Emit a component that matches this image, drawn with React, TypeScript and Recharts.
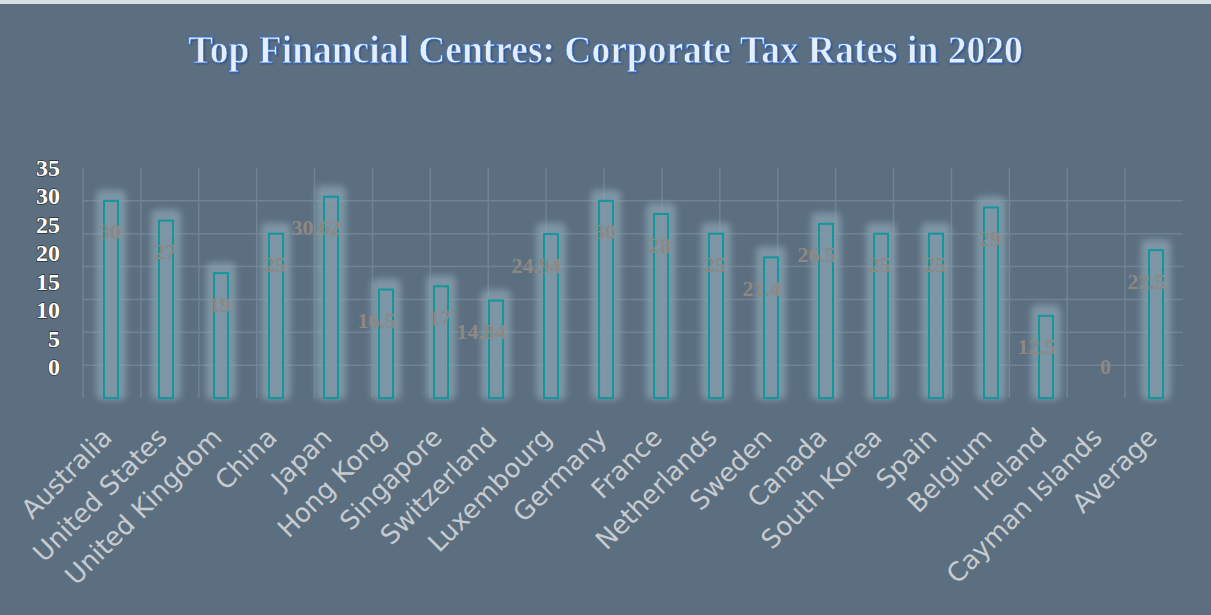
import React from 'react';
import { BarChart, Bar, XAxis, YAxis, CartesianGrid, LabelList } from 'recharts';

// Corporate tax rates (%) for the top financial centres, 2020
const countries = [
  'Australia', 'United States', 'United Kingdom', 'China', 'Japan',
  'Hong Kong', 'Singapore', 'Switzerland', 'Luxembourg', 'Germany',
  'France', 'Netherlands', 'Sweden', 'Canada', 'South Korea',
  'Spain', 'Belgium', 'Ireland', 'Cayman Islands', 'Average',
];
const taxRates = [30, 27, 19, 25, 30.62, 16.5, 17, 14.84, 24.94, 30, 28, 25, 21.4, 26.5, 25, 25, 29, 12.5, 0, 22.5];
const axisLabels = [0, 5, 10, 15, 20, 25, 30, 35];
const gridValues = [5, 10, 15, 20, 25, 30];
const boundaryTicks = Array.from({ length: countries.length + 1 }, (_, i) => i);

const data = countries.map((name, i) => ({ name, rate: taxRates[i] }));

const bg = '#5c6f80';

const GlowBar = (props: any) => {
  const { x, y, width, height } = props;
  if (!height || height <= 0) return null;
  return (
    <g>
      <rect x={x - 8} y={y - 11} width={width + 16} height={height + 13} rx={6} fill="#8ca5b4" opacity={0.7} filter="url(#barGlow)" />
      <rect x={x} y={y} width={width} height={height} fill="#7e96a5" fillOpacity={0.55} stroke="#12979c" strokeWidth={2} />
    </g>
  );
};

const ValueLabel = (props: any) => {
  const x = Number(props.x);
  const y = Number(props.y);
  const w = Number(props.width);
  // labels sit just inside the bar top; a zero bar gets its label above the baseline
  const cy = Number(props.value) === 0 ? y - 32 : y + 31;
  return (
    <text
      x={x + w + 3}
      y={cy}
      textAnchor="end"
      dominantBaseline="central"
      fill="#8e8883"
      fontFamily="'Liberation Serif', 'Times New Roman', serif"
      fontWeight="bold"
      fontSize={22}
    >
      {props.value}
    </text>
  );
};

const CountryTick = ({ x, y, payload }: any) => (
  <g transform={`translate(${x},${y})`}>
    <text
      x={3}
      y={3}
      textAnchor="end"
      transform="rotate(-45 3 3)"
      fill="#c7cbcf"
      fontSize={26}
      fontFamily="'DejaVu Sans', Verdana, sans-serif"
    >
      {payload.value}
    </text>
  </g>
);

const RateTick = ({ x, y, payload }: any) => (
  <text
    x={x - 15}
    y={y}
    textAnchor="end"
    dominantBaseline="central"
    fill="#ffffff"
    stroke="#27313a"
    strokeWidth={1.3}
    paintOrder="stroke"
    fontSize={24}
    fontWeight="bold"
    fontFamily="'Liberation Serif', 'Times New Roman', serif"
  >
    {payload.value}
  </text>
);

export default function App() {
  return (
    <div style={{ position: 'relative', width: 1211, height: 615, background: bg, overflow: 'hidden' }}>
      <style>{'body{margin:0}'}</style>
      <svg width={0} height={0} style={{ position: 'absolute' }}>
        <defs>
          <filter id="barGlow" x="-50%" y="-10%" width="200%" height="120%">
            <feGaussianBlur stdDeviation={3} />
          </filter>
        </defs>
      </svg>
      <div style={{ position: 'absolute', left: 0, top: 0, width: 1211, height: 4, background: '#d9dee2' }} />
      <div
        style={{
          position: 'absolute',
          left: 0,
          top: 28,
          width: 1211,
          textAlign: 'center',
          fontFamily: "'Liberation Serif', 'Times New Roman', serif",
          fontWeight: 'bold',
          fontSize: 37.5,
          lineHeight: '44px',
          color: '#e4eefc',
          WebkitTextStroke: '0.7px #3e72c2',
          textShadow: '1px 1px 2px rgba(25,60,130,0.8)',
          transform: 'scaleY(1.08)',
        }}
      >
        Top Financial Centres: Corporate Tax Rates in 2020
      </div>
      <div style={{ position: 'absolute', left: 0, top: 0 }}>
        <BarChart width={1211} height={615} data={data} margin={{ top: 168, right: 28, bottom: 0, left: 0 }}>
          <CartesianGrid
            xAxisId="bounds"
            yAxisId="val"
            horizontalValues={gridValues}
            verticalValues={boundaryTicks}
            stroke="#6f8393"
            strokeWidth={1.5}
          />
          <XAxis xAxisId="bounds" type="number" domain={[0, countries.length]} ticks={boundaryTicks} hide />
          <XAxis
            xAxisId="cat"
            dataKey="name"
            interval={0}
            height={217}
            axisLine={false}
            tickLine={false}
            tick={<CountryTick />}
          />
          <YAxis yAxisId="val" domain={[0, 35]} ticks={gridValues} hide />
          <YAxis
            yAxisId="lbl"
            domain={[-5.4, 35]}
            ticks={axisLabels}
            allowDataOverflow
            width={83}
            axisLine={false}
            tickLine={false}
            tick={<RateTick />}
          />
          <Bar
            xAxisId="cat"
            yAxisId="val"
            dataKey="rate"
            barSize={14}
            shape={<GlowBar />}
            isAnimationActive={false}
          >
            <LabelList dataKey="rate" content={<ValueLabel />} />
          </Bar>
        </BarChart>
      </div>
    </div>
  );
}
